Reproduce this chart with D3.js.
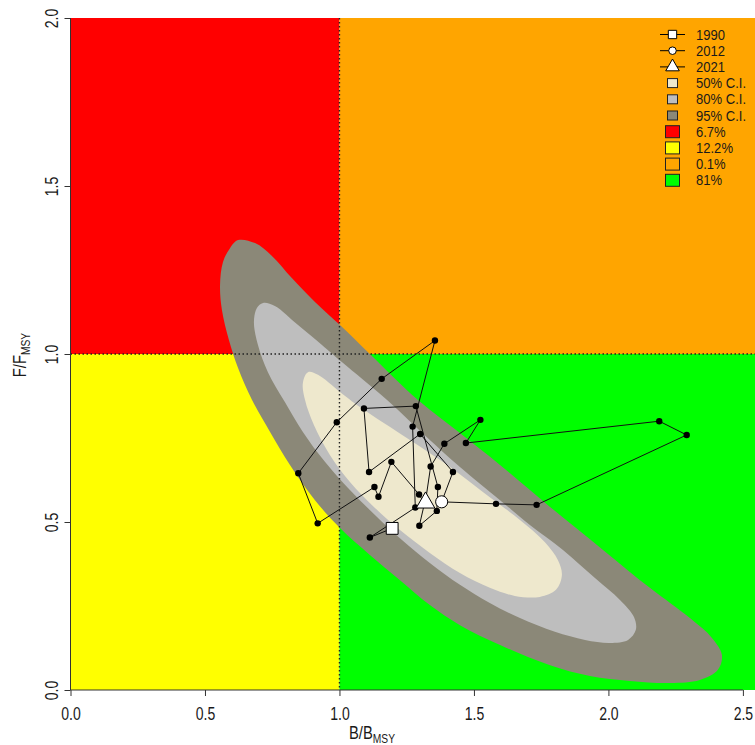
<!DOCTYPE html>
<html>
<head>
<meta charset="utf-8">
<script src="https://cdn.jsdelivr.net/npm/d3@7"></script>
<style>
  body { margin: 0; background: #fff; }
  svg { display: block; }
  text { font-family: "Liberation Sans", Arial, sans-serif; fill: #1a1a1a; }
</style>
</head>
<body>
<svg id="chart" width="755" height="745"></svg>
<script>
// ---- data ----
const years = [1990,1991,1992,1993,1994,1995,1996,1997,1998,1999,2000,2001,2002,2003,2004,2005,
               2006,2007,2008,2009,2010,2011,2012,2013,2014,2015,2016,2017,2018,2019,2020,2021];
const bRatio = [1.196,1.113,1.282,1.272,1.355,1.157,0.990,0.847,0.919,1.130,1.145,1.193,1.296,1.316,1.297,1.362,
                1.366,1.284,1.091,1.110,1.300,1.422,1.380,1.582,1.733,2.291,2.189,1.470,1.524,1.390,1.339,1.320];
const fRatio = [0.481,0.454,0.543,0.784,1.040,0.926,0.797,0.645,0.496,0.604,0.575,0.679,0.582,0.555,0.489,0.533,
                0.604,0.845,0.838,0.649,0.762,0.649,0.560,0.554,0.551,0.759,0.800,0.735,0.804,0.733,0.665,0.562];
const markedYears = [1990, 2012, 2021];

const xTicks = [0, 0.5, 1, 1.5, 2, 2.5];
const yTicks = [0, 0.5, 1, 1.5, 2];

const ciLabels = ["50% C.I.", "80% C.I.", "95% C.I."];
const ciColors = ["#EEE8CD", "#BEBEBE", "#8B8878"];
const quadLabels = ["6.7%", "12.2%", "0.1%", "81%"];
const quadColors = ["#FF0000", "#FFFF00", "#FFA500", "#00FF00"];

// density contour outlines (B/Bmsy, F/Fmsy)
const contour95 = [[0.623,1.339],[0.686,1.330],[0.749,1.292],[0.823,1.226],[0.909,1.155],[1.002,1.086],
  [1.113,1.000],[1.292,0.863],[1.448,0.765],[1.597,0.670],[1.783,0.545],[1.980,0.417],[2.154,0.304],
  [2.303,0.214],[2.385,0.155],[2.422,0.104],[2.407,0.060],[2.340,0.030],[2.229,0.021],[2.080,0.027],
  [1.931,0.042],[1.783,0.074],[1.597,0.134],[1.448,0.193],[1.336,0.253],[1.225,0.327],[1.113,0.402],
  [1.002,0.482],[0.909,0.565],[0.816,0.670],[0.742,0.768],[0.675,0.863],[0.623,0.958],[0.589,1.042],
  [0.563,1.131],[0.556,1.205],[0.567,1.274],[0.593,1.315]];
const contour80 = [[0.716,1.152],[0.760,1.143],[0.846,1.086],[0.935,1.027],[1.009,0.976],[1.177,0.863],
  [1.336,0.744],[1.448,0.664],[1.597,0.565],[1.708,0.491],[1.831,0.417],[1.950,0.333],[2.043,0.268],
  [2.095,0.217],[2.102,0.179],[2.073,0.149],[2.006,0.140],[1.913,0.149],[1.801,0.173],[1.671,0.214],
  [1.559,0.259],[1.448,0.313],[1.336,0.378],[1.225,0.452],[1.132,0.521],[1.039,0.595],[0.946,0.679],
  [0.864,0.768],[0.797,0.857],[0.734,0.946],[0.697,1.027],[0.682,1.095],[0.693,1.137]];
const contour50 = [[0.883,0.946],[0.920,0.938],[1.002,0.887],[1.076,0.842],[1.262,0.744],[1.411,0.664],
  [1.559,0.574],[1.671,0.506],[1.764,0.440],[1.812,0.387],[1.827,0.342],[1.805,0.298],[1.745,0.277],
  [1.652,0.280],[1.559,0.304],[1.448,0.348],[1.336,0.408],[1.225,0.476],[1.132,0.542],[1.039,0.619],
  [0.965,0.699],[0.905,0.789],[0.872,0.863],[0.864,0.914]];

// ---- layout ----
const svg = d3.select("#chart");
const xMax = 2.545;
const x = d3.scaleLinear().domain([0, xMax]).range([70.5, 755]);
const y = d3.scaleLinear().domain([0, 2]).range([690, 18]);

// Kobe quadrants: red (B<1,F>1), yellow (B<1,F<1), orange (B>1,F>1), green (B>1,F<1)
const quads = [
  {x0: 0, x1: 1, y0: 1, y1: 2, c: quadColors[0]},
  {x0: 0, x1: 1, y0: 0, y1: 1, c: quadColors[1]},
  {x0: 1, x1: xMax, y0: 1, y1: 2, c: quadColors[2]},
  {x0: 1, x1: xMax, y0: 0, y1: 1, c: quadColors[3]}
];
svg.append("g").selectAll("rect").data(quads).join("rect")
  .attr("x", d => x(d.x0)).attr("y", d => y(d.y1))
  .attr("width", d => x(d.x1) - x(d.x0)).attr("height", d => y(d.y0) - y(d.y1))
  .attr("fill", d => d.c);

// confidence regions
const area = d3.line().x(d => x(d[0])).y(d => y(d[1])).curve(d3.curveCatmullRomClosed.alpha(0.5));
svg.append("g").selectAll("path")
  .data([{pts: contour95, c: ciColors[2]}, {pts: contour80, c: ciColors[1]}, {pts: contour50, c: ciColors[0]}])
  .join("path").attr("d", d => area(d.pts)).attr("fill", d => d.c);

// reference lines at 1
svg.append("line").attr("x1", x(1)).attr("x2", x(1)).attr("y1", y(2)).attr("y2", y(0))
  .attr("stroke", "#222").attr("stroke-width", 1.4).attr("stroke-dasharray", "1.5,2.5");
svg.append("line").attr("x1", x(0)).attr("x2", x(xMax)).attr("y1", y(1)).attr("y2", y(1))
  .attr("stroke", "#222").attr("stroke-width", 1.4).attr("stroke-dasharray", "1.5,2.5");

// trajectory
const traj = years.map((yr, i) => ({yr, b: bRatio[i], f: fRatio[i]}));
svg.append("path").datum(traj)
  .attr("d", d3.line().x(d => x(d.b)).y(d => y(d.f)))
  .attr("fill", "none").attr("stroke", "#111").attr("stroke-width", 1);
svg.append("g").selectAll("circle").data(traj).join("circle")
  .attr("cx", d => x(d.b)).attr("cy", d => y(d.f)).attr("r", 3.2).attr("fill", "#000");

const sym = {
  1990: d3.symbol().type(d3.symbolSquare).size(140),
  2012: d3.symbol().type(d3.symbolCircle).size(115),
  2021: d3.symbol().type(d3.symbolTriangle).size(150)
};
markedYears.forEach(yr => {
  const d = traj.find(t => t.yr === yr);
  svg.append("path").attr("d", sym[yr]())
    .attr("transform", `translate(${x(d.b)},${y(d.f) + (yr === 2021 ? 1.5 : 0)})`)
    .attr("fill", "#fff").attr("stroke", "#000").attr("stroke-width", 1);
});

// ---- axes ----
const ax = svg.append("g").attr("transform", `translate(0,${y(0)})`)
  .call(d3.axisBottom(x).tickValues(xTicks).tickFormat(d3.format(".1f")).tickSize(6).tickSizeOuter(0));
ax.select(".domain").remove();
ax.append("line").attr("x1", x(0)).attr("x2", x(2.5)).attr("stroke", "#333");
ax.selectAll(".tick line").attr("stroke", "#333");
ax.selectAll(".tick text").attr("fill", "#222").attr("font-size", 18)
  .attr("y", 17).attr("dy", "0.71em").attr("transform", "scale(0.78,1)");

const ay = svg.append("g").attr("transform", `translate(${x(0)},0)`)
  .call(d3.axisLeft(y).tickValues(yTicks).tickFormat(d3.format(".1f")).tickSize(6).tickSizeOuter(0));
ay.select(".domain").remove();
ay.append("line").attr("y1", y(0)).attr("y2", y(2)).attr("stroke", "#333");
ay.selectAll(".tick line").attr("stroke", "#333");
ay.selectAll(".tick text").attr("fill", "#222").attr("font-size", 18)
  .attr("x", null).attr("dy", null).attr("text-anchor", "middle")
  .attr("transform", "translate(-13,0) rotate(-90) scale(0.78,1)");

// axis titles
const xt = svg.append("text").attr("text-anchor", "middle")
  .attr("transform", "translate(372,739) scale(0.82,1)").attr("font-size", 18);
xt.append("tspan").text("B/B");
xt.append("tspan").text("MSY").attr("font-size", 12.5).attr("dy", 4);

const yt = svg.append("text").attr("text-anchor", "middle")
  .attr("transform", "translate(26,355) rotate(-90) scale(0.82,1)").attr("font-size", 18);
yt.append("tspan").text("F/F");
yt.append("tspan").text("MSY").attr("font-size", 12.5).attr("dy", 4);

// ---- legend ----
const lg = svg.append("g");
const rowY = i => 34.5 + i * 16.2;
const lx = 672.5, tx = 696;
const legendSym = {
  1990: d3.symbol().type(d3.symbolSquare).size(70),
  2012: d3.symbol().type(d3.symbolCircle).size(45),
  2021: d3.symbol().type(d3.symbolTriangle).size(80)
};
markedYears.forEach((yr, i) => {
  lg.append("line").attr("x1", 660).attr("x2", 685).attr("y1", rowY(i)).attr("y2", rowY(i))
    .attr("stroke", "#000").attr("stroke-width", 1);
  lg.append("path").attr("d", legendSym[yr]()).attr("transform", `translate(${lx},${rowY(i)})`)
    .attr("fill", "#fff").attr("stroke", "#000");
});
const boxes = ciLabels.map((l, i) => ({l, c: ciColors[i], w: 10, h: 9}))
  .concat(quadLabels.map((l, i) => ({l, c: quadColors[i], w: 14, h: 12})));
boxes.forEach((b, j) => {
  const yy = rowY(3 + j);
  lg.append("rect").attr("x", lx - b.w / 2).attr("y", yy - b.h / 2).attr("width", b.w).attr("height", b.h)
    .attr("fill", b.c).attr("stroke", "#222").attr("stroke-width", 1);
});
const labels = markedYears.map(String).concat(ciLabels, quadLabels);
labels.forEach((l, i) => {
  lg.append("text").text(l).attr("font-size", 14.5)
    .attr("transform", `translate(${tx},${rowY(i) + 5}) scale(0.9,1)`);
});
</script>
</body>
</html>
